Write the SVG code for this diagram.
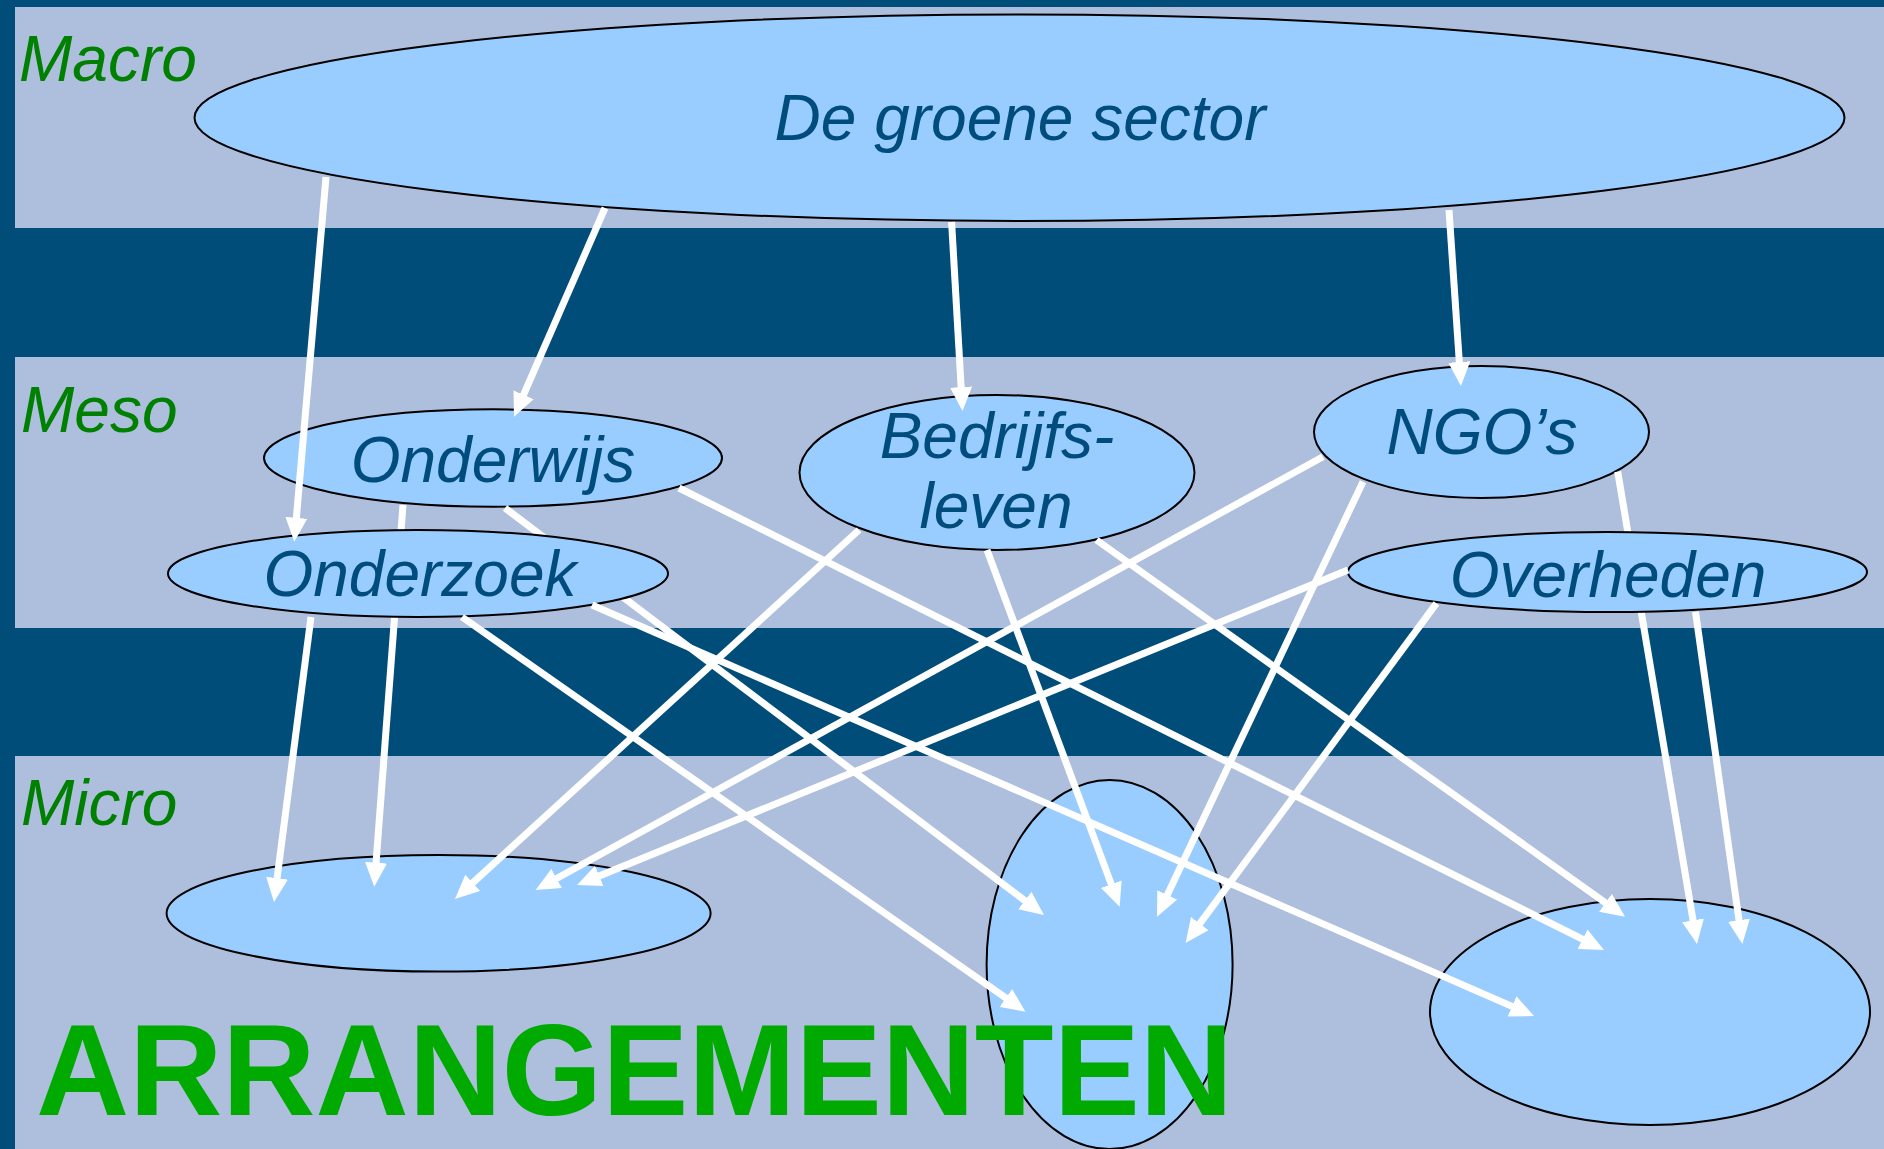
<svg xmlns="http://www.w3.org/2000/svg" width="1884" height="1149" viewBox="0 0 1884 1149">
<defs>
<style>
.band{fill:#adbfdc}
.node{fill:#99ccff;stroke:#000;stroke-width:2}
.lbl{font-family:"Liberation Sans",Arial,sans-serif;font-style:italic;font-size:64px;fill:#004c7c;text-anchor:middle}
.lvl{font-family:"Liberation Sans",Arial,sans-serif;font-style:italic;font-size:64px;fill:#008000}
.big{font-family:"Liberation Sans",Arial,sans-serif;font-weight:bold;font-size:129px;fill:#00aa00}
.conn line{stroke:#fff;stroke-width:7;marker-end:url(#ah)}
</style>
<marker id="ah" markerUnits="userSpaceOnUse" markerWidth="24" markerHeight="22" refX="10" refY="11" orient="auto">
<path d="M0,0 L24,11 L0,22 Z" fill="#fff"/>
</marker>
</defs>
<rect x="0" y="0" width="1884" height="1149" fill="#004d7a"/>
<g id="bands">
<rect class="band" x="15" y="7" width="1869" height="221"/>
<rect class="band" x="15" y="357" width="1869" height="271"/>
<rect class="band" x="15" y="756" width="1869" height="393"/>
</g>
<g id="levels">
<text class="lvl" x="19" y="81">Macro</text>
<text class="lvl" x="21" y="432">Meso</text>
<text class="lvl" x="21" y="825">Micro</text>
</g>
<g id="macro">
<ellipse class="node" cx="1019.5" cy="117.7" rx="825" ry="103.3"/>
<text class="lbl" x="1020" y="140">De groene sector</text>
</g>
<g id="onderwijs">
<ellipse class="node" cx="493" cy="458" rx="229" ry="48.7"/>
<text class="lbl" x="493" y="482">Onderwijs</text>
</g>
<g id="bedrijfsleven">
<ellipse class="node" cx="997" cy="472.5" rx="197.5" ry="77.5"/>
<text class="lbl" x="997" y="458">Bedrijfs-</text>
<text class="lbl" x="996" y="528">leven</text>
</g>
<g id="ngos">
<ellipse class="node" cx="1481.5" cy="432" rx="167.5" ry="66"/>
<text class="lbl" x="1482" y="454">NGO’s</text>
</g>
<g id="micro-left">
<ellipse class="node" cx="438.6" cy="913.3" rx="272" ry="58.3"/>
</g>
<g id="micro-middle">
<ellipse class="node" cx="1109.6" cy="964.5" rx="123" ry="184.5"/>
</g>
<g id="micro-right">
<ellipse class="node" cx="1650" cy="1012" rx="220" ry="113"/>
</g>
<text class="big" x="36" y="1115">ARRANGEMENTEN</text>
<g id="connectors-behind" class="conn">
<line x1="403" y1="505" x2="375.3" y2="872.7"/>
<line x1="505" y1="508" x2="1032.8" y2="906.6"/>
<line x1="1617.7" y1="471.7" x2="1694.7" y2="930.2"/>
</g>
<g id="onderzoek">
<ellipse class="node" cx="418" cy="573.5" rx="250" ry="43.5"/>
<text class="lbl" x="420" y="596">Onderzoek</text>
</g>
<g id="overheden">
<ellipse class="node" cx="1607.5" cy="572" rx="259.5" ry="40"/>
<text class="lbl" x="1608" y="597">Overheden</text>
</g>
<g id="connectors" class="conn">
<line x1="326" y1="177" x2="295.5" y2="527.8"/>
<line x1="605" y1="208" x2="519.6" y2="403.9"/>
<line x1="951.6" y1="222" x2="961.7" y2="397"/>
<line x1="1449" y1="210" x2="1460" y2="372"/>
<line x1="679" y1="488" x2="1591.5" y2="943.7"/>
<line x1="311" y1="617" x2="275.8" y2="888.1"/>
<line x1="462" y1="617" x2="1014" y2="1003.7"/>
<line x1="592" y1="605" x2="1521.2" y2="1010.4"/>
<line x1="859" y1="530" x2="465.3" y2="889.6"/>
<line x1="987" y1="550" x2="1114.8" y2="893.6"/>
<line x1="1096.5" y1="540" x2="1613.6" y2="908.6"/>
<line x1="1323" y1="456.7" x2="547.9" y2="883.3"/>
<line x1="1363" y1="481.7" x2="1163" y2="904"/>
<line x1="1348" y1="570" x2="590" y2="879.7"/>
<line x1="1436.4" y1="603.3" x2="1193.9" y2="931.7"/>
<line x1="1695.5" y1="611.7" x2="1740.4" y2="930.1"/>
</g>
</svg>
